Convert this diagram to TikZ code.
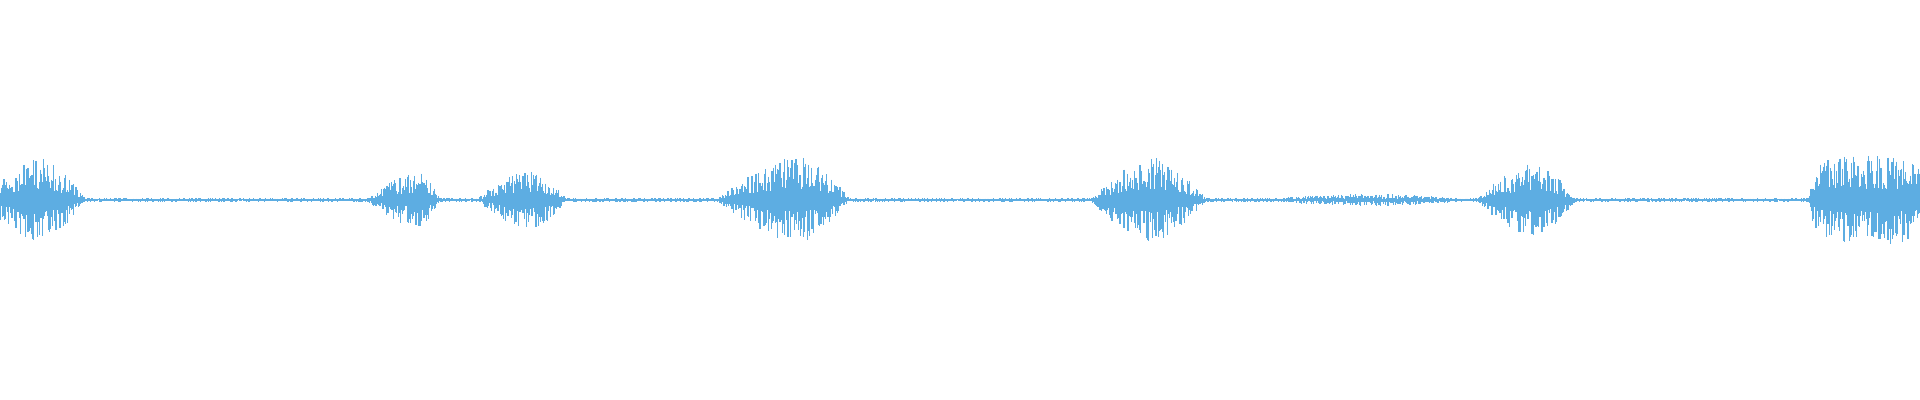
\documentclass[tikz,border=0pt]{standalone}
\definecolor{wave}{RGB}{93,173,226}
\begin{document}
\begin{tikzpicture}[x=0.5pt,y=0.5pt,wl/.style={draw=wave,line width=0.6pt}]
\useasboundingbox (0,0) rectangle (1920,400);
\pgfmathsetseed{42}
\foreach \x in {0,0.8,...,1920}{
  \pgfmathsetmacro{\e}{2
   +40*(1-min(max(40-\x,0)/60+max(\x-40,0)/45,1)^1.5)
   +26*(1-min(max(418-\x,0)/50+max(\x-418,0)/22,1)^1.5)
   +28*(1-min(max(530-\x,0)/52+max(\x-530,0)/36,1)^1.5)
   +42*(1-min(max(798-\x,0)/80+max(\x-798,0)/52,1)^1.5)
   +42*(1-min(max(1150-\x,0)/58+max(\x-1150,0)/56,1)^1.5)
   +4*(1-min(abs((\x-1370)/90),1)^2)
   +36*(1-min(max(1535-\x,0)/58+max(\x-1535,0)/40,1)^1.5)
   +42*(1-min(abs((\x-1868)/60),1)^8)}
  \pgfmathsetmacro{\a}{\e*(0.25+0.75*rnd^1.5)}
  \pgfmathsetmacro{\b}{\e*(0.25+0.75*rnd^1.5)}
  \draw[wl] (\x,200+\a) -- (\x,200-\b);
}
\end{tikzpicture}
\end{document}
